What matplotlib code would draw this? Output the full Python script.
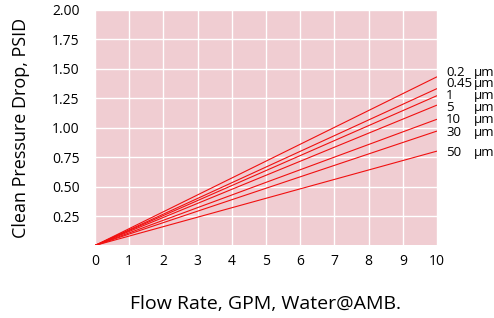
import matplotlib
matplotlib.use('Agg')
import matplotlib.pyplot as plt

# flow rate (GPM) and clean pressure drop at 10 GPM for each rating
flow = [0, 10]
ratings = ['0.2', '0.45', '1', '5', '10', '30', '50']
dp_at_10 = [1.43, 1.33, 1.27, 1.19, 1.07, 0.97, 0.80]
label_y = [1.47, 1.37, 1.27, 1.17, 1.07, 0.96, 0.79]

pink = '#f0cdd2'
red = '#f01010'

plt.rcParams['font.family'] = ['Open Sans', 'DejaVu Sans']

fig = plt.figure(figsize=(4.94, 3.18), dpi=100)
ax = fig.add_axes([0.1923, 0.228, 0.6923, 0.742])
ax.set_facecolor(pink)

for r, v in zip(ratings, dp_at_10):
    ax.plot(flow, [0, v], color=red, linewidth=0.8, solid_capstyle='butt')

for r, y in zip(ratings, label_y):
    ax.text(10.27, y, r, fontsize=9.5, va='center', ha='left', clip_on=False)
    ax.text(11.07, y, 'µm', fontsize=9.5, va='center', ha='left', clip_on=False)

ax.set_xlim(0, 10)
ax.set_ylim(0, 2)
ax.set_xticks(range(0, 11))
ax.set_yticks([0.25, 0.5, 0.75, 1.0, 1.25, 1.5, 1.75, 2.0])
ax.set_yticklabels(['%.2f' % t for t in ax.get_yticks()])
ax.grid(color='white', linewidth=1.0)
ax.set_axisbelow(True)
for s in ax.spines.values():
    s.set_visible(False)
ax.tick_params(length=0, labelsize=10)
ax.tick_params(axis='y', pad=11)
ax.tick_params(axis='x', pad=6)

ax.set_ylabel('Clean Pressure Drop, PSID', fontsize=13, labelpad=16)
ax.set_xlabel('Flow Rate, GPM, Water@AMB.', fontsize=14, labelpad=19)

fig.savefig('out.png', dpi=100, facecolor='white')
